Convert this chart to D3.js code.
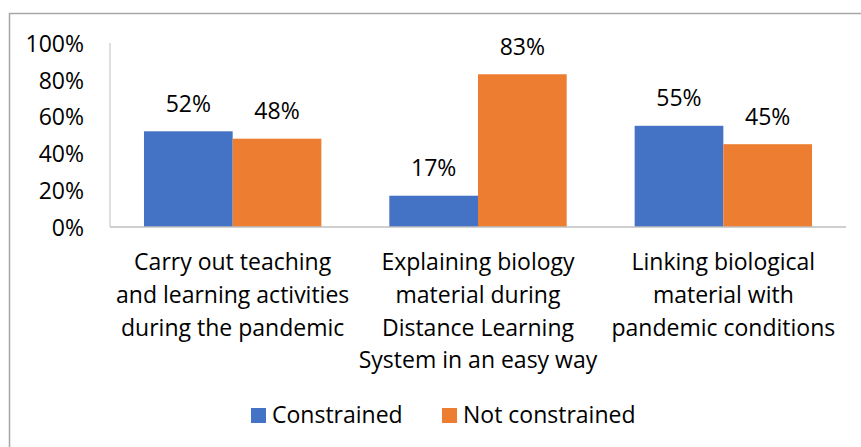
<!DOCTYPE html>
<html>
<head>
<meta charset="utf-8">
<script src="https://cdn.jsdelivr.net/npm/d3@7"></script>
<style>
  body { margin: 0; background: #fff; }
  text { font-family: "Open Sans", sans-serif; fill: #000; }
</style>
</head>
<body>
<div id="chart"></div>
<script>
const categories = [
  ["Carry out teaching", "and learning activities", "during the pandemic"],
  ["Explaining biology", "material during", "Distance Learning", "System in an easy way"],
  ["Linking biological", "material with", "pandemic conditions"]
];
const seriesNames = ["Constrained", "Not constrained"];
const constrained = [52, 17, 55];
const notConstrained = [48, 83, 45];
const yTicks = [0, 20, 40, 60, 80, 100];
const COLORS = ["#4472C4", "#ED7D31"];
const FONT_SIZE = "23px";

let width = 861,
  height = 447;
let plotLeft = 110,
  plotRight = 846,
  plotTop = 43,
  plotBottom = 227;

let svg = d3
  .select("#chart")
  .append("svg")
  .attr("width", width)
  .attr("height", height);

// outer frame (cut off at right and bottom like the picture)
svg
  .append("rect")
  .attr("x", 9.5)
  .attr("y", 13.5)
  .attr("width", 900)
  .attr("height", 500)
  .attr("fill", "none")
  .attr("stroke", "#a6a6a6")
  .attr("stroke-width", 1.5);

let idx = categories.map((d, i) => i);
let x = d3
  .scaleBand()
  .domain(idx)
  .range([plotLeft, plotRight])
  .paddingInner(0.277)
  .paddingOuter(0.1385);
let x1 = d3.scaleBand().domain([0, 1]).range([0, x.bandwidth()]);
let y = d3.scaleLinear().domain([0, 100]).range([plotBottom, plotTop]);

let series = [constrained, notConstrained];

// y axis labels
let yAxis = d3
  .axisLeft(y)
  .tickValues(yTicks)
  .tickSize(0)
  .tickPadding(26)
  .tickFormat((d) => d + "%");
let ga = svg.append("g").attr("transform", `translate(${plotLeft},0)`).call(yAxis);
ga.select(".domain").remove();
ga.selectAll("text")
  .attr("font-size", FONT_SIZE)
  .attr("font-family", "Open Sans")
  .attr("fill", "#000")
  .attr("dy", "0.36em");

// bars
series.forEach(function (vals, s) {
  svg
    .append("g")
    .selectAll("rect")
    .data(vals)
    .join("rect")
    .attr("x", (d, i) => x(i) + x1(s))
    .attr("y", (d) => y(d))
    .attr("width", x1.bandwidth())
    .attr("height", (d) => y(0) - y(d))
    .attr("fill", COLORS[s]);

  svg
    .append("g")
    .selectAll("text")
    .data(vals)
    .join("text")
    .attr("x", (d, i) => x(i) + x1(s) + x1.bandwidth() / 2)
    .attr("y", (d) => y(d) - 19.5)
    .attr("text-anchor", "middle")
    .attr("font-size", FONT_SIZE)
    .text((d) => d + "%");
});

// axis lines
svg
  .append("line")
  .attr("x1", plotLeft)
  .attr("x2", plotLeft)
  .attr("y1", plotTop)
  .attr("y2", plotBottom)
  .attr("stroke", "#bfbfbf")
  .attr("stroke-width", 1);
svg
  .append("line")
  .attr("x1", plotLeft)
  .attr("x2", plotRight)
  .attr("y1", plotBottom)
  .attr("y2", plotBottom)
  .attr("stroke", "#bfbfbf")
  .attr("stroke-width", 1.5);

// category labels
let cl = svg
  .append("g")
  .selectAll("text")
  .data(categories)
  .join("text")
  .attr("x", (d, i) => x(i) + x.bandwidth() / 2)
  .attr("y", 270)
  .attr("text-anchor", "middle")
  .attr("font-size", FONT_SIZE);
cl.selectAll("tspan")
  .data((d) => d)
  .join("tspan")
  .attr("x", function () {
    return this.parentNode.getAttribute("x");
  })
  .attr("dy", (d, i) => (i === 0 ? 0 : 32.8))
  .text((d) => d);

// legend
let legendX = [251, 442];
let lg = svg
  .append("g")
  .selectAll("g")
  .data(seriesNames)
  .join("g")
  .attr("transform", (d, i) => `translate(${legendX[i]},408)`);
lg.append("rect")
  .attr("width", 15)
  .attr("height", 15)
  .attr("fill", (d, i) => COLORS[i]);
lg.append("text")
  .attr("x", 21)
  .attr("y", 15)
  .attr("font-size", FONT_SIZE)
  .text((d) => d);
</script>
</body>
</html>
